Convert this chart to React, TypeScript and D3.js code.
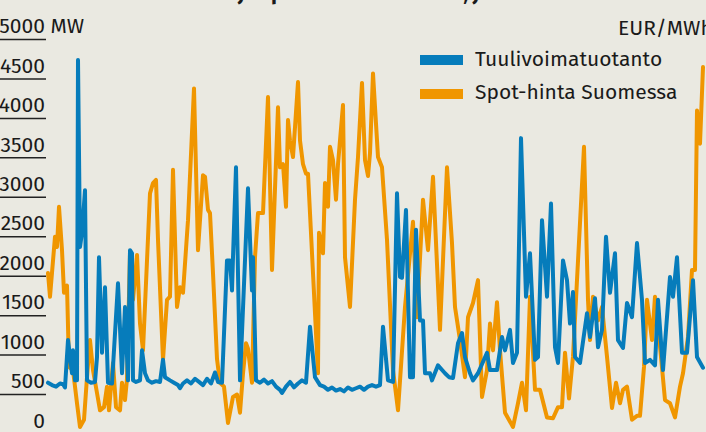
import React from "react";
import * as d3 from "d3";

const W = 706;
const H = 432;

// y-axis tick values (MW)
const mwTicks = [0, 500, 1000, 1500, 2000, 2500, 3000, 3500, 4000, 4500, 5000];

// Wind production: hour index and MW
const windHour = [0, 4, 8, 12, 15, 17, 20, 24, 25, 27, 29, 30, 32, 34, 37, 39, 43, 47, 49, 51, 54, 57, 60, 64, 70, 74, 77, 80, 82, 84, 85, 88, 92, 94, 97, 100, 104, 108, 112, 115, 117, 122, 126, 130, 132, 135, 139, 143, 147, 151, 155, 159, 163, 167, 170, 174, 179, 182, 184, 185, 188, 192, 200, 204, 205, 208, 212, 216, 220, 224, 228, 232, 234, 238, 242, 246, 250, 254, 258, 262, 267, 272, 276, 280, 284, 288, 292, 296, 300, 304, 308, 312, 316, 320, 324, 328, 332, 335, 340, 345, 349, 352, 354, 358, 362, 365, 368, 372, 375, 377, 382, 384, 390, 397, 401, 405, 410, 414, 417, 422, 425, 430, 439, 442, 449, 454, 457, 462, 465, 469, 473, 478, 482, 487, 490, 494, 499, 503, 507, 510, 515, 519, 522, 525, 527, 532, 539, 542, 547, 550, 554, 558, 562, 567, 570, 575, 579, 584, 589, 594, 597, 602, 607, 610, 615, 622, 625, 629, 634, 639, 645, 649, 655];
const windMW = [650, 620, 600, 640, 630, 590, 1190, 770, 1060, 680, 680, 4740, 2370, 2550, 3090, 680, 650, 660, 975, 2240, 1030, 1860, 650, 640, 1910, 770, 1610, 680, 2330, 2290, 680, 660, 680, 1060, 770, 680, 650, 670, 660, 940, 720, 680, 650, 620, 580, 640, 680, 640, 700, 660, 620, 700, 640, 780, 660, 650, 2200, 2200, 1820, 2240, 3380, 680, 3115, 1820, 2240, 680, 650, 690, 640, 670, 600, 560, 520, 600, 660, 590, 640, 680, 650, 1360, 720, 620, 600, 560, 590, 550, 570, 540, 590, 560, 580, 600, 560, 600, 620, 600, 620, 1360, 680, 660, 3050, 1990, 1980, 2840, 720, 720, 2590, 1440, 1440, 770, 770, 680, 870, 770, 720, 710, 1150, 1280, 975, 770, 680, 770, 1030, 810, 810, 1230, 1060, 1320, 900, 1030, 3750, 1740, 2290, 940, 975, 2710, 1740, 2920, 1100, 900, 2200, 1950, 1400, 1800, 975, 900, 1530, 1230, 1720, 1100, 1320, 2500, 1790, 2290, 1190, 1090, 1660, 1480, 2420, 1700, 900, 940, 870, 1700, 810, 1990, 1740, 2240, 1030, 1030, 1950, 975, 840];

// Spot price: hour index and EUR/MWh
const priceHour = [0, 2, 7, 9, 11, 14, 16, 19, 21, 25, 29, 32, 36, 39, 42, 45, 49, 52, 56, 59, 61, 65, 68, 72, 74, 77, 79, 82, 85, 89, 92, 95, 102, 105, 108, 110, 115, 119, 122, 125, 129, 132, 135, 140, 146, 150, 155, 157, 160, 162, 165, 169, 172, 176, 180, 185, 189, 192, 195, 198, 200, 204, 207, 210, 215, 220, 224, 230, 232, 235, 238, 240, 242, 245, 250, 252, 255, 258, 260, 262, 270, 271, 275, 277, 280, 282, 285, 288, 290, 295, 297, 302, 307, 310, 314, 317, 320, 322, 325, 330, 334, 339, 345, 350, 357, 365, 369, 375, 380, 385, 392, 399, 404, 407, 412, 417, 420, 425, 430, 434, 439, 442, 445, 449, 452, 457, 465, 470, 474, 478, 482, 487, 492, 499, 505, 510, 514, 517, 521, 525, 529, 536, 540, 542, 545, 550, 554, 559, 564, 568, 572, 575, 579, 584, 589, 592, 596, 599, 604, 607, 613, 617, 622, 627, 632, 635, 640, 644, 647, 649, 652, 655];
const priceEUR = [204, 174, 250, 237, 288, 233, 179, 188, 85, 81, 39, 9, 18, 72, 119, 81, 52, 30, 34, 60, 30, 90, 34, 30, 65, 43, 70, 229, 170, 227, 140, 106, 305, 318, 322, 246, 94, 170, 174, 335, 161, 186, 179, 271, 438, 233, 328, 326, 284, 280, 204, 95, 65, 60, 14, 47, 50, 27, 77, 115, 108, 65, 224, 280, 280, 427, 208, 414, 338, 342, 288, 398, 372, 351, 446, 372, 342, 330, 330, 280, 77, 255, 229, 318, 288, 364, 347, 297, 342, 417, 224, 161, 297, 351, 445, 347, 327, 356, 457, 351, 338, 246, 81, 30, 161, 269, 148, 297, 233, 326, 132, 338, 242, 161, 119, 72, 148, 166, 195, 47, 81, 140, 106, 167, 106, 27, 9, 39, 65, 30, 174, 56, 56, 21, 20, 34, 34, 103, 45, 98, 195, 364, 170, 119, 174, 144, 161, 98, 33, 65, 39, 56, 60, 18, 23, 23, 85, 170, 119, 174, 98, 43, 39, 21, 60, 77, 123, 208, 208, 410, 368, 465];

const legendLabels = ["Tuulivoimatuotanto", "Spot-hinta Suomessa"];
const colors = ["#067cbb", "#f09600"];

const FONT = "'Fira Sans', 'Open Sans', sans-serif";
const FS = 21;

export default function App() {
  const x = d3.scaleLinear().domain([0, 655]).range([48, 703]);
  const yMW = d3.scaleLinear().domain([0, 5000]).range([434, 39.5]);
  const yEUR = d3.scaleLinear().domain([0, 500]).range([434, 39.5]);

  const windLine = d3
    .line<number>()
    .x((_, i) => x(windHour[i]))
    .y((d) => yMW(d));
  const priceLine = d3
    .line<number>()
    .x((_, i) => x(priceHour[i]))
    .y((d) => yEUR(d));

  return (
    <svg
      width={W}
      height={H}
      style={{ position: "fixed", left: 0, top: 0, background: "#eae9e1" }}
      fontFamily={FONT}
    >
      <rect x={0} y={0} width={W} height={H} fill="#eae9e1" />
      <text x={45} y={-0.5} fontSize={21} fontWeight={700} fill="#1a1a1a">
        Tuulivoimatuotanto ja spot-hinta Suomessa, joulu–tammikuu
      </text>
      {mwTicks.map((t) => (
        <g key={t}>
          {t > 0 && (
            <line x1={-2} x2={46} y1={yMW(t)} y2={yMW(t)} stroke="#222" strokeWidth={1.5} />
          )}
          <text
            x={45}
            y={yMW(t) - 6.3}
            textAnchor="end"
            fontSize={FS}
            fill="#1a1a1a"
          >
            {t}
          </text>
        </g>
      ))}
      <text x={50.5} y={yMW(5000) - 6.3} fontSize={FS} fill="#1a1a1a">
        MW
      </text>
      <text x={618} y={35} fontSize={FS} fill="#1a1a1a">
        EUR/MWh
      </text>
      <path
        d={priceLine(priceEUR) || ""}
        fill="none"
        stroke={colors[1]}
        strokeWidth={4}
        strokeLinejoin="round"
        strokeLinecap="round"
      />
      <path
        d={windLine(windMW) || ""}
        fill="none"
        stroke={colors[0]}
        strokeWidth={4}
        strokeLinejoin="round"
        strokeLinecap="round"
      />
      {legendLabels.map((l, i) => (
        <g key={l}>
          <rect x={420} y={55 + i * 34} width={43} height={10} fill={colors[i]} />
          <text x={475} y={66 + i * 32.5} fontSize={FS} fill="#1a1a1a">
            {l}
          </text>
        </g>
      ))}
    </svg>
  );
}
